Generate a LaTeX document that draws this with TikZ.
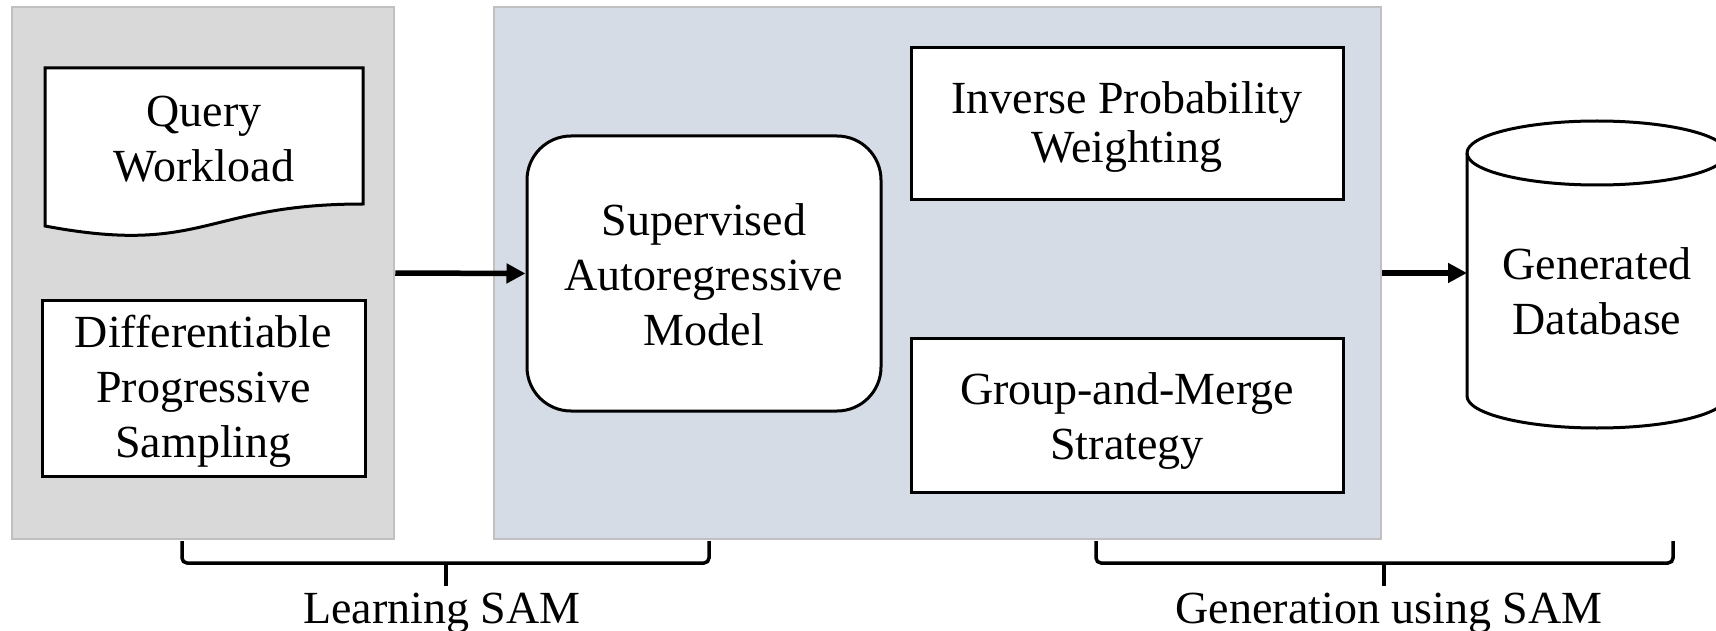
\documentclass[tikz,border=0pt]{standalone}
\usepackage{fontspec}
\setmainfont{Liberation Serif}
\usetikzlibrary{arrows.meta}

\definecolor{panelgray}{HTML}{D9D9D9}
\definecolor{panelblue}{HTML}{D6DCE5}
\definecolor{paneledge}{HTML}{C0C0C0}

\begin{document}
\begin{tikzpicture}[x=1pt,y=-1pt,
  panel/.style={draw=paneledge, line width=2.5pt, inner sep=0pt},
  box/.style={draw=black, fill=white, line width=3pt, inner sep=0pt},
  txt/.style={font=\fontsize{46}{55}\selectfont, align=center, inner sep=0pt},
  tighttxt/.style={font=\fontsize{46}{49}\selectfont, align=center, inner sep=0pt},
  flow/.style={line width=5.5pt, -{Triangle[length=19pt,width=19pt]}},
  bracket/.style={line width=3.5pt, rounded corners=5pt}
]
\useasboundingbox (0,0) rectangle (1716,631);

% background panels for the two stages
\node[panel, fill=panelgray, minimum width=382, minimum height=532] (learn) at (203,273) {};
\node[panel, fill=panelblue, minimum width=887, minimum height=532] (gen) at (937.5,273) {};

% query workload (document shape)
\draw[box] (45,68) -- (363,68) -- (363,204)
  .. controls (204,204) and (204,256) .. (45,226) -- cycle;
\node[txt] (qw) at (204,139.5) {Query\\Workload};

% differentiable progressive sampling
\node[box, minimum width=323, minimum height=176] (dps) at (203.5,388) {};
\node[txt] (dpstxt) at (203.5,391) {Differentiable\\Progressive\\Sampling};

% supervised autoregressive model
\node[box, rounded corners=44pt, minimum width=354, minimum height=275] (sam) at (704,273.5) {};
\node[txt] (samtxt) at (704,275) {Supervised\\Autoregressive\\Model};

% generation techniques
\node[box, minimum width=432, minimum height=152] (ipw) at (1127,124) {};
\node[tighttxt] (ipwtxt) at (1127,127) {Inverse Probability\\Weighting};
\node[box, minimum width=432, minimum height=154] (gms) at (1127,415) {};
\node[txt] (gmstxt) at (1127,421) {Group-and-Merge\\Strategy};

% generated database (cylinder)
\draw[box] (1467,153) -- (1467,396)
  arc[start angle=180, end angle=360, x radius=130pt, y radius=32pt]
  -- (1727,153)
  arc[start angle=0, end angle=180, x radius=130pt, y radius=32pt] -- cycle;
\draw[line width=3pt] (1467,153)
  arc[start angle=180, end angle=360, x radius=130pt, y radius=32pt];
\node[txt] (db) at (1597,291.5) {Generated\\Database};
\coordinate (dbin) at (1467,273);

% flow arrows
\draw[flow] (learn.east) -- (sam.west);
\draw[flow] (gen.east) -- (dbin);

% stage brackets
\coordinate (la) at (182,541);
\coordinate (lb) at (709,541);
\coordinate (lm) at (446,563);
\coordinate (lt) at (446,586);
\draw[bracket] (la) -- (182,563) -- (709,563) -- (lb);
\draw[line width=3.5pt] (lm) -- (lt);
\node[txt, anchor=base] (llabel) at (442,623) {Learning SAM};

\coordinate (ga) at (1096,541);
\coordinate (gb) at (1673,541);
\coordinate (gm) at (1384,563);
\coordinate (gt) at (1384,586);
\draw[bracket] (ga) -- (1096,563) -- (1673,563) -- (gb);
\draw[line width=3.5pt] (gm) -- (gt);
\node[txt, anchor=base] (glabel) at (1389,623) {Generation using SAM};
\end{tikzpicture}
\end{document}
